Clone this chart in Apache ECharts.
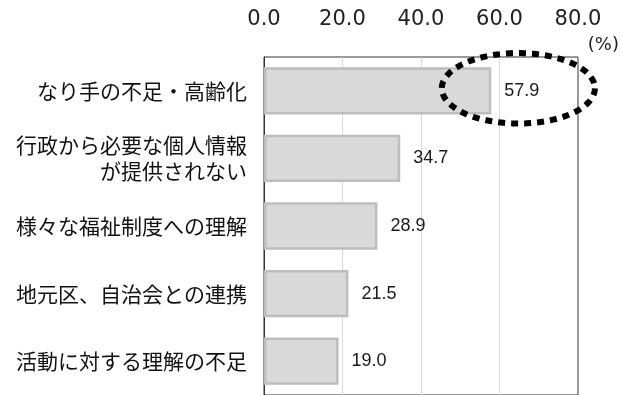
<!DOCTYPE html>
<html>
<head>
<meta charset="utf-8">
<script src="https://cdn.jsdelivr.net/npm/echarts@6/dist/echarts.min.js"></script>
<style>
html,body{margin:0;padding:0;background:#fff;}
#chart{width:623px;height:395px;}
</style>
</head>
<body>
<div id="chart"></div>
<script>
const categories = ['なり手の不足・高齢化', '行政から必要な個人情報\nが提供されない', '様々な福祉制度への理解', '地元区、自治会との連携', '活動に対する理解の不足'];
const values = [57.9, 34.7, 28.9, 21.5, 19.0];
const tickMin = 0, tickMax = 80, tickStep = 20;
const unitLabel = '(%)';
// highlight annotation around the first bar's value (data units)
const highlightCenter = [64.8, 0];
const highlightRadiusValue = 19.5;

const chart = echarts.init(document.getElementById('chart'));
chart.setOption({
  animation: false,
  backgroundColor: '#fff',
  title: {
    text: unitLabel, right: 0, top: 34, padding: [2, 4],
    textStyle: { color: '#222', fontSize: 18, fontWeight: 'normal', fontFamily: 'DejaVu Sans' }
  },
  grid: { left: 264, right: 45, top: 57, bottom: -5, show: true, borderColor: '#333', borderWidth: 1, backgroundColor: 'transparent' },
  xAxis: {
    type: 'value', position: 'top', min: tickMin, max: tickMax, interval: tickStep,
    axisLine: { show: false }, axisTick: { show: false },
    axisLabel: { color: '#222', fontFamily: 'DejaVu Sans', fontSize: 21, margin: 27,
      formatter: v => v.toFixed(1) },
    splitLine: { show: true, showMinLine: false, showMaxLine: false, lineStyle: { color: '#d9d9d9', width: 1 } }
  },
  yAxis: {
    type: 'category', inverse: true, data: categories,
    axisLine: { show: true, lineStyle: { color: '#333', width: 1 } },
    axisTick: { show: false },
    axisLabel: { color: '#111', fontFamily: 'Noto Sans CJK JP', fontSize: 21, lineHeight: 26, margin: 17, align: 'right' }
  },
  series: [{
    type: 'bar', data: values, barWidth: '70%',
    itemStyle: { color: '#d9d9d9', borderColor: '#bdbdbd', borderWidth: 2.5 },
    label: { show: true, position: 'right', distance: 13, color: '#1a1a1a', fontFamily: 'Liberation Sans', fontSize: 18,
      fontWeight: 500, formatter: p => p.value.toFixed(1) }
  }]
});

// dotted ellipse around the top bar's value
const c = chart.convertToPixel({ gridIndex: 0 }, highlightCenter);
const e = chart.convertToPixel({ gridIndex: 0 }, [highlightCenter[0] + highlightRadiusValue, 0]);
const rx = e[0] - c[0];
const ry = rx * 0.46;
const pts = [];
for (let i = 0; i < 160; i++) {
  const t = i / 160 * Math.PI * 2;
  pts.push([c[0] + rx * Math.cos(t), c[1] - 2.5 + ry * Math.sin(t)]);
}
chart.setOption({
  graphic: [{
    type: 'polygon', z: 100,
    shape: { points: pts },
    style: { fill: 'none', stroke: '#000', lineWidth: 6, lineDash: [7, 6] }
  }]
});
</script>
</body>
</html>
